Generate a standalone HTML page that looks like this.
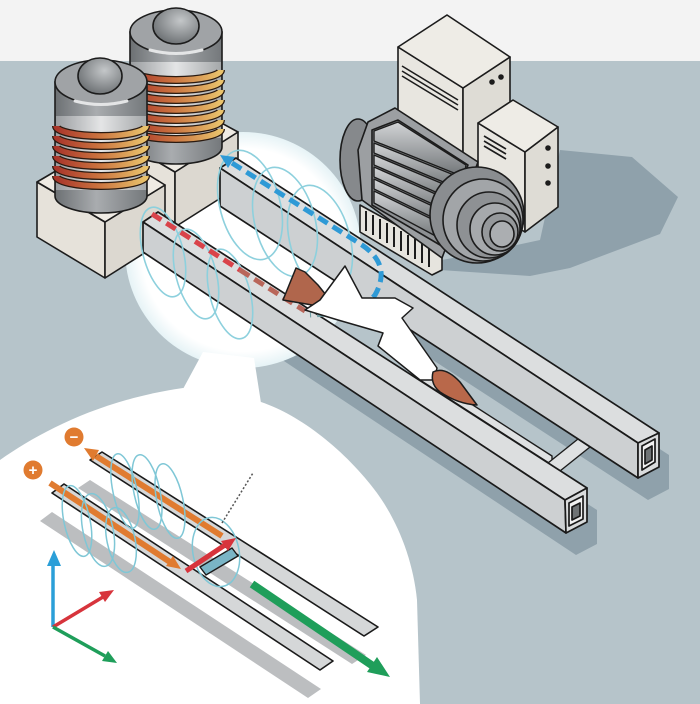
<!DOCTYPE html>
<html><head><meta charset="utf-8">
<style>html,body{margin:0;padding:0;background:#b6c4ca}svg{display:block}</style>
</head><body>
<svg width="700" height="704" viewBox="0 0 700 704" xmlns="http://www.w3.org/2000/svg">
<defs>
 <linearGradient id="cyl" x1="0" x2="1" y1="0" y2="0">
  <stop offset="0" stop-color="#6c7073"/>
  <stop offset="0.45" stop-color="#a9acaf"/>
  <stop offset="1" stop-color="#74787b"/>
 </linearGradient>
 <linearGradient id="cop" x1="0" x2="1">
  <stop offset="0" stop-color="#a8352a"/>
  <stop offset="0.45" stop-color="#c9703e"/>
  <stop offset="1" stop-color="#e9c36c"/>
 </linearGradient>
 <linearGradient id="core" x1="0" x2="1">
  <stop offset="0" stop-color="#9a9da0"/>
  <stop offset="0.5" stop-color="#e4e5e6"/>
  <stop offset="1" stop-color="#a5a8aa"/>
 </linearGradient>
 <radialGradient id="knob" cx="0.6" cy="0.35" r="0.7">
  <stop offset="0" stop-color="#c4c7c9"/>
  <stop offset="1" stop-color="#6a6e71"/>
 </radialGradient>
 <radialGradient id="glow" cx="0.5" cy="0.5" r="0.5">
  <stop offset="0.86" stop-color="#ffffff"/>
  <stop offset="1" stop-color="#e6f3f6"/>
 </radialGradient>
 <linearGradient id="rib" x1="0" y1="0" x2="0" y2="1">
  <stop offset="0" stop-color="#d2d4d6"/>
  <stop offset="1" stop-color="#6f7376"/>
 </linearGradient>
</defs>

<!-- background -->
<rect width="700" height="704" fill="#b6c4ca"/>
<rect width="700" height="61" fill="#f3f3f3"/>

<!-- shadows -->
<polygon points="430,262 470,255 540,240 560,150 632,157 678,197 660,234 570,268 530,276 440,270" fill="#8fa1ab"/>
<polygon points="168,234 597,510 597,544 576,555 153,274 153,244" fill="#8fa1ab"/>
<polygon points="246,180 669,455 669,489 648,500 230,228 230,190" fill="#8fa1ab"/>

<!-- glow circle + bubble -->
<circle cx="243" cy="250" r="118" fill="url(#glow)"/>
<polygon points="183,389 203,352 254,358 261,403" fill="#ffffff"/>
<path d="M0,460 C40,432 100,400 183,388 L261,402 C300,415 345,450 377,493 C398,522 413,560 417,600 L420,704 L0,704 Z" fill="#ffffff"/>

<!-- pedestal 2 -->
<g stroke="#1c1c1c" stroke-width="1.6" stroke-linejoin="round">
 <polygon points="107,132 175,172 175,227 107,187" fill="#e6e2da"/>
 <polygon points="175,172 238,132 238,187 175,227" fill="#dcd8d0"/>
 <polygon points="107,132 170,95 238,132 175,172" fill="#efebe4"/>
</g>
<!-- cylinder 2 -->
<g stroke="#1c1c1c" stroke-width="1.6">
 <path d="M130,32 L130,147 A46,17 0 0 0 222,147 L222,32 Z" fill="url(#cyl)"/>
 <rect x="131" y="62" width="90" height="76" fill="url(#core)" stroke="none"/>
 <g fill="none">
  <path d="M131,70 A45,10 0 0 0 221,70" stroke="#2a1a10" stroke-width="8"/>
  <path d="M131,70 A45,10 0 0 0 221,70" stroke="url(#cop)" stroke-width="5.5"/>
  <path d="M131,80 A45,10 0 0 0 221,80" stroke="#2a1a10" stroke-width="8"/>
  <path d="M131,80 A45,10 0 0 0 221,80" stroke="url(#cop)" stroke-width="5.5"/>
  <path d="M131,90 A45,10 0 0 0 221,90" stroke="#2a1a10" stroke-width="8"/>
  <path d="M131,90 A45,10 0 0 0 221,90" stroke="url(#cop)" stroke-width="5.5"/>
  <path d="M131,100 A45,10 0 0 0 221,100" stroke="#2a1a10" stroke-width="8"/>
  <path d="M131,100 A45,10 0 0 0 221,100" stroke="url(#cop)" stroke-width="5.5"/>
  <path d="M131,110 A45,10 0 0 0 221,110" stroke="#2a1a10" stroke-width="8"/>
  <path d="M131,110 A45,10 0 0 0 221,110" stroke="url(#cop)" stroke-width="5.5"/>
  <path d="M131,120 A45,10 0 0 0 221,120" stroke="#2a1a10" stroke-width="8"/>
  <path d="M131,120 A45,10 0 0 0 221,120" stroke="url(#cop)" stroke-width="5.5"/>
  <path d="M131,129 A45,10 0 0 0 221,129" stroke="#2a1a10" stroke-width="8"/>
  <path d="M131,129 A45,10 0 0 0 221,129" stroke="url(#cop)" stroke-width="5.5"/>
 </g>
 <ellipse cx="176" cy="32" rx="46" ry="22" fill="#a0a3a6"/>
 <ellipse cx="176" cy="26" rx="23" ry="18" fill="url(#knob)"/>
 <path d="M150,50 Q176,57 202,50" stroke="#e4e5e6" stroke-width="3" fill="none" stroke-linecap="round"/>
</g>

<!-- pedestal 1 -->
<g stroke="#1c1c1c" stroke-width="1.6" stroke-linejoin="round">
 <polygon points="37,182 105,222 105,278 37,237" fill="#e6e2da"/>
 <polygon points="105,222 165,185 165,240 105,278" fill="#dcd8d0"/>
 <polygon points="37,182 100,145 165,185 105,222" fill="#efebe4"/>
</g>
<!-- cylinder 1 -->
<g stroke="#1c1c1c" stroke-width="1.6">
 <path d="M55,82 L55,196 A46,17 0 0 0 147,196 L147,82 Z" fill="url(#cyl)"/>
 <rect x="56" y="116" width="90" height="74" fill="url(#core)" stroke="none"/>
 <g fill="none">
  <path d="M56,126 A45,10 0 0 0 146,126" stroke="#2a1a10" stroke-width="8"/>
  <path d="M56,126 A45,10 0 0 0 146,126" stroke="url(#cop)" stroke-width="5.5"/>
  <path d="M56,136 A45,10 0 0 0 146,136" stroke="#2a1a10" stroke-width="8"/>
  <path d="M56,136 A45,10 0 0 0 146,136" stroke="url(#cop)" stroke-width="5.5"/>
  <path d="M56,146 A45,10 0 0 0 146,146" stroke="#2a1a10" stroke-width="8"/>
  <path d="M56,146 A45,10 0 0 0 146,146" stroke="url(#cop)" stroke-width="5.5"/>
  <path d="M56,156 A45,10 0 0 0 146,156" stroke="#2a1a10" stroke-width="8"/>
  <path d="M56,156 A45,10 0 0 0 146,156" stroke="url(#cop)" stroke-width="5.5"/>
  <path d="M56,166 A45,10 0 0 0 146,166" stroke="#2a1a10" stroke-width="8"/>
  <path d="M56,166 A45,10 0 0 0 146,166" stroke="url(#cop)" stroke-width="5.5"/>
  <path d="M56,176 A45,10 0 0 0 146,176" stroke="#2a1a10" stroke-width="8"/>
  <path d="M56,176 A45,10 0 0 0 146,176" stroke="url(#cop)" stroke-width="5.5"/>
 </g>
 <ellipse cx="101" cy="82" rx="46" ry="22" fill="#a0a3a6"/>
 <ellipse cx="100" cy="76" rx="22" ry="18" fill="url(#knob)"/>
 <path d="M75,101 Q101,108 127,101" stroke="#e4e5e6" stroke-width="3" fill="none" stroke-linecap="round"/>
</g>

<!-- cabinets -->
<g stroke="#1c1c1c" stroke-width="1.6" stroke-linejoin="round">
 <polygon points="398,47 463,88 463,210 398,170" fill="#e8e6e0"/>
 <polygon points="463,88 510,57 510,180 463,210" fill="#dedcd5"/>
 <polygon points="398,47 447,15 510,57 463,88" fill="#eeece6"/>
 <line x1="402" y1="66" x2="458" y2="100"/>
 <line x1="402" y1="71" x2="458" y2="105"/>
 <line x1="402" y1="76" x2="458" y2="110"/>
 <circle cx="492" cy="82" r="2" fill="#1c1c1c"/>
 <circle cx="501" cy="77" r="2" fill="#1c1c1c"/>

 <polygon points="478,123 525,152 525,232 478,203" fill="#e8e6e0"/>
 <polygon points="525,152 558,127 558,207 525,232" fill="#dedcd5"/>
 <polygon points="478,123 513,100 558,127 525,152" fill="#eeece6"/>
 <line x1="484" y1="136" x2="506" y2="149"/>
 <line x1="484" y1="141" x2="506" y2="154"/>
 <line x1="484" y1="146" x2="506" y2="159"/>
 <circle cx="548" cy="148" r="2" fill="#1c1c1c"/>
 <circle cx="548" cy="166" r="2" fill="#1c1c1c"/>
 <circle cx="548" cy="183" r="2" fill="#1c1c1c"/>
</g>

<!-- motor -->
<g stroke="#1c1c1c" stroke-width="1.6" stroke-linejoin="round">
 <polygon points="360,205 442,250 442,270 432,275 360,232" fill="#e6e4de"/>
 <g stroke-width="2">
  <line x1="366" y1="211" x2="366" y2="231"/>
  <line x1="373" y1="215" x2="373" y2="235"/>
  <line x1="380" y1="219" x2="380" y2="239"/>
  <line x1="387" y1="223" x2="387" y2="243"/>
  <line x1="394" y1="227" x2="394" y2="247"/>
  <line x1="401" y1="231" x2="401" y2="251"/>
  <line x1="408" y1="235" x2="408" y2="255"/>
  <line x1="415" y1="239" x2="415" y2="259"/>
  <line x1="422" y1="243" x2="422" y2="263"/>
  <line x1="429" y1="247" x2="429" y2="267"/>
 </g>
 <ellipse cx="358" cy="160" rx="18" ry="41" fill="#86898c"/>
 <polygon points="362,200 358,150 368,122 395,108 478,162 442,258" fill="#9c9fa2"/>
 <polygon points="372,130 398,120 468,165 440,245 372,205" fill="#8d9093"/>
 <g stroke-width="1.4">
  <polygon points="374,131 398,122 466,165 464,177 374,141" fill="url(#rib)"/>
  <polygon points="374,143 464,179 460,189 374,153" fill="url(#rib)"/>
  <polygon points="374,155 460,191 456,201 374,165" fill="url(#rib)"/>
  <polygon points="374,167 456,203 452,213 374,177" fill="url(#rib)"/>
  <polygon points="374,179 452,215 448,225 374,189" fill="url(#rib)"/>
  <polygon points="374,191 448,227 443,240 374,203" fill="url(#rib)"/>
 </g>
 <ellipse cx="477" cy="215" rx="47" ry="48" fill="#8a8d90"/>
 <ellipse cx="483" cy="220" rx="40" ry="41" fill="#a2a5a8"/>
 <ellipse cx="489" cy="225" rx="32" ry="33" fill="#8e9194"/>
 <ellipse cx="495" cy="229" rx="25" ry="26" fill="#a6a9ac"/>
 <ellipse cx="500" cy="232" rx="18" ry="19" fill="#95989b"/>
 <ellipse cx="502" cy="234" rx="12" ry="13" fill="#abaeb1"/>
</g>

<!-- guide strip & crossbar -->
<g stroke="#1c1c1c" stroke-width="1.4" stroke-linejoin="round">
 <polygon points="420,371 552,456 552,465 420,380" fill="#dfe1e2"/>
 <polygon points="548,463 578,439 590,447 560,471" fill="#dfe1e2"/>
</g>

<!-- rails -->
<g stroke="#1a1a1a" stroke-width="1.7" stroke-linejoin="round">
 <polygon points="236,158 659,433 638,443 220,168" fill="#dcdedf"/>
 <polygon points="220,168 638,443 638,478 220,206" fill="#cdd0d2"/>
 <polygon points="638,443 659,433 659,467 638,478" fill="#d9dbdc"/>
 <polygon points="642,446 655,439 655,462 642,470" fill="#f2f2f2"/>
 <polygon points="645,450 652,446 652,460 645,464" fill="#6f7375"/>

 <polygon points="158,212 587,488 565,500 143,222" fill="#dcdedf"/>
 <polygon points="143,222 565,500 566,533 143,252" fill="#cdd0d2"/>
 <polygon points="565,500 587,488 587,522 566,533" fill="#d9dbdc"/>
 <polygon points="569,503 583,496 583,519 569,526" fill="#f2f2f2"/>
 <polygon points="572,507 580,503 580,516 572,520" fill="#6f7375"/>
</g>

<!-- field loops main -->
<g fill="none" stroke="#8dd0dd" stroke-width="1.6">
 <ellipse cx="163" cy="252" rx="20" ry="46" transform="rotate(-15 163 252)"/>
 <ellipse cx="196" cy="274" rx="20" ry="46" transform="rotate(-15 196 274)"/>
 <ellipse cx="230" cy="294" rx="20" ry="46" transform="rotate(-15 230 294)"/>
 <ellipse cx="250" cy="205" rx="30" ry="56" transform="rotate(-15 250 205)"/>
 <ellipse cx="285" cy="222" rx="30" ry="56" transform="rotate(-15 285 222)"/>
 <ellipse cx="320" cy="240" rx="30" ry="56" transform="rotate(-15 320 240)"/>
</g>

<!-- dashed currents -->
<g fill="none" stroke-width="5" stroke-dasharray="11 6">
 <path d="M152,214 L240,270" stroke="#d9434a"/>
 <path d="M240,270 L305,311" stroke="#b9665a"/>
 <path d="M232,163 L362,245 Q392,265 375,295 Q362,310 345,313" stroke="#2f9ad6"/>
 <path d="M345,313 L310,315" stroke="#6e9fa6"/>
</g>
<polygon points="220,155 235,157 228,168" fill="#2f9ad6"/>

<!-- projectile -->
<g stroke="#1c1c1c" stroke-width="1.5" stroke-linejoin="round">
 <polygon points="283,300 296,268 305,272 318,285 330,300 318,306" fill="#b0664c"/>
 <polygon points="345,266 362,298 395,298 413,308 402,318 437,368 434,380 420,380 378,346 383,333 338,320 305,310 320,300" fill="#ffffff"/>
 <path d="M433,372 Q445,366 460,382 L477,405 Q458,404 440,392 Q430,384 433,372 Z" fill="#b9684a"/>
</g>

<!-- ===== inset ===== -->
<g fill="#bcbec0">
 <polygon points="90,480 366,655 352,664 78,488"/>
 <polygon points="52,512 321,689 308,698 40,521"/>
</g>
<g fill="#d5d7d8" stroke="#1a1a1a" stroke-width="1.6" stroke-linejoin="round">
 <polygon points="102,452 378,627 364,636 90,460"/>
 <polygon points="64,484 333,661 320,670 52,493"/>
</g>

<!-- orange currents -->
<g stroke="#e07b30" stroke-width="6" stroke-linecap="butt">
 <line x1="50" y1="483" x2="170" y2="562"/>
 <line x1="222" y1="536" x2="96" y2="456"/>
</g>
<polygon points="181,569 166,566 173,556" fill="#e07b30"/>
<polygon points="84,448 99,450 93,461" fill="#e07b30"/>

<circle cx="74" cy="437" r="9.5" fill="#e07b30"/>
<circle cx="33" cy="470" r="9.5" fill="#e07b30"/>
<text x="74" y="442" font-family="Liberation Sans, sans-serif" font-size="15" font-weight="bold" fill="#ffffff" text-anchor="middle">−</text>
<text x="33" y="475" font-family="Liberation Sans, sans-serif" font-size="15" font-weight="bold" fill="#ffffff" text-anchor="middle">+</text>

<!-- inset loops -->
<g fill="none" stroke="#7fc7d6" stroke-width="1.5">
 <ellipse cx="77" cy="521" rx="13" ry="36" transform="rotate(-12 77 521)"/>
 <ellipse cx="98" cy="530" rx="15" ry="37" transform="rotate(-12 98 530)"/>
 <ellipse cx="121" cy="540" rx="14" ry="33" transform="rotate(-12 121 540)"/>
 <ellipse cx="125" cy="491" rx="12" ry="38" transform="rotate(-12 125 491)"/>
 <ellipse cx="147" cy="492" rx="13" ry="38" transform="rotate(-12 147 492)"/>
 <ellipse cx="170" cy="501" rx="13" ry="38" transform="rotate(-12 170 501)"/>
 <ellipse cx="216" cy="552" rx="23" ry="35" transform="rotate(-12 216 552)"/>
</g>

<!-- armature, force, direction -->
<polygon points="200,567 232,548 238,556 206,575" fill="#7ab5c6" stroke="#1a1a1a" stroke-width="1.4"/>
<line x1="222" y1="523" x2="253" y2="473" stroke="#555" stroke-width="1.5" stroke-dasharray="2 2"/>
<line x1="186" y1="571" x2="225" y2="545" stroke="#d7343c" stroke-width="5"/>
<polygon points="236,538 228,551 221,541" fill="#d7343c"/>
<line x1="252" y1="584" x2="373" y2="666" stroke="#1f9e5a" stroke-width="8"/>
<polygon points="390,677 367,672 377,657" fill="#1f9e5a"/>

<!-- axes -->
<line x1="53" y1="627" x2="53" y2="565" stroke="#2b9fd8" stroke-width="3.5"/>
<polygon points="54,550 47,566 61,566" fill="#2b9fd8"/>
<line x1="53" y1="627" x2="103" y2="597" stroke="#d7343c" stroke-width="3.5"/>
<polygon points="114,590 105,602 99,592" fill="#d7343c"/>
<line x1="53" y1="627" x2="105" y2="656" stroke="#1f9e5a" stroke-width="3.5"/>
<polygon points="117,663 102,661 108,651" fill="#1f9e5a"/>
</svg>
</body></html>
